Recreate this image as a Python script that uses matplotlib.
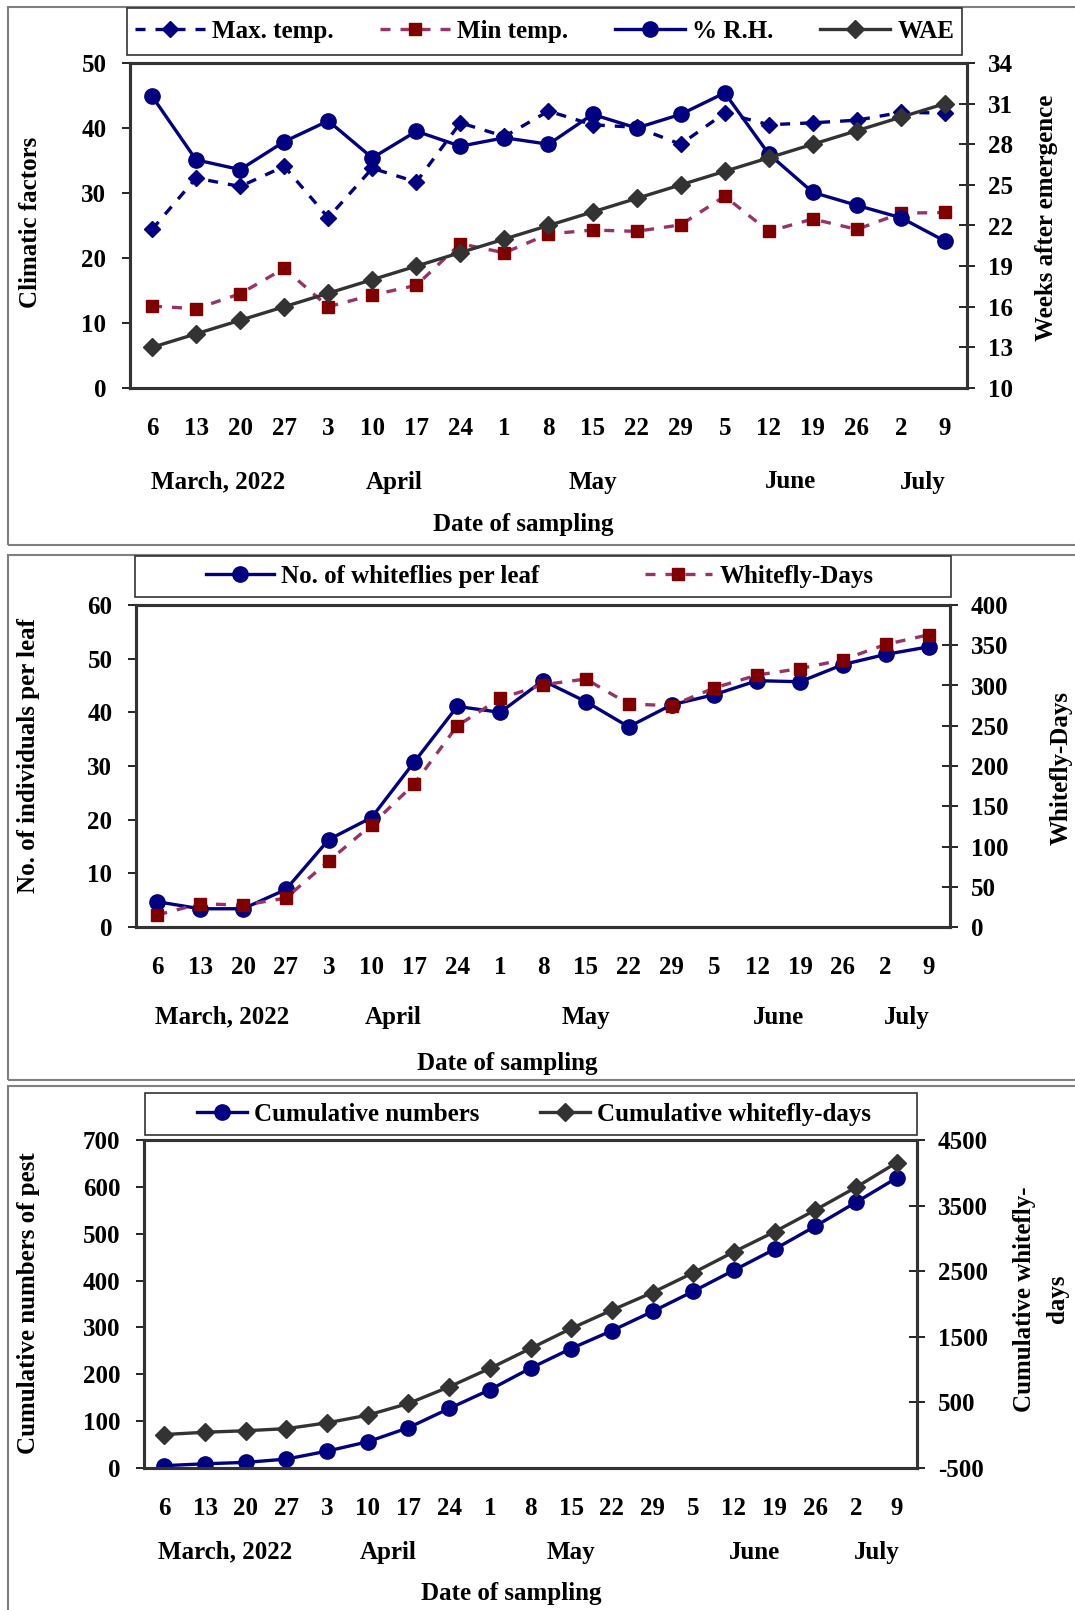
import numpy as np
import matplotlib.pyplot as plt
from matplotlib.patches import Rectangle

plt.rcParams['font.family'] = ['Liberation Serif', 'DejaVu Serif']
plt.rcParams['font.weight'] = 'bold'
plt.rcParams['font.size'] = 18
plt.rcParams['axes.unicode_minus'] = False

# Datas de amostragem (eixo x) e meses
datas = ['6', '13', '20', '27', '3', '10', '17', '24', '1', '8', '15', '22', '29',
         '5', '12', '19', '26', '2', '9']
meses = ['March, 2022', 'April', 'May', 'June', 'July']
pos_meses = [1.5, 5.5, 10, 14.5, 17.5]

# Painel 1 - fatores climaticos
max_temp = [24.4, 32.3, 31.0, 34.1, 26.2, 33.8, 31.7, 40.8, 38.7, 42.6, 40.5, 40.1,
            37.5, 42.3, 40.5, 40.8, 41.2, 42.4, 42.3]
min_temp = [12.6, 12.2, 14.5, 18.4, 12.5, 14.3, 15.8, 22.2, 20.8, 23.7, 24.3, 24.1,
            25.1, 29.5, 24.1, 26.0, 24.4, 26.9, 27.0]
umidade = [44.9, 35.1, 33.6, 37.9, 41.1, 35.4, 39.5, 37.2, 38.5, 37.5, 42.1, 40.0,
           42.1, 45.4, 36.0, 30.1, 28.1, 26.2, 22.6]
semanas_ae = [13, 14, 15, 16, 17, 18, 19, 20, 21, 22, 23, 24, 25, 26, 27, 28, 29, 30, 31]

# Painel 2 - mosca-branca
moscas_folha = [4.7, 3.4, 3.4, 7.0, 16.3, 20.4, 30.8, 41.1, 40.0, 45.9, 42.0, 37.3,
                41.4, 43.3, 45.9, 45.7, 48.9, 50.8, 52.2]
moscas_dias = [15, 29, 27, 36, 82, 127, 178, 250, 284, 301, 308, 277, 275, 297,
               313, 321, 332, 351, 363]

# Painel 3 - acumulados
acum_numeros = [5, 9, 12, 19, 36, 56, 86, 127, 167, 213, 255, 293, 334, 377, 422,
                467, 516, 567, 619]
acum_dias = [10, 45, 68, 100, 188, 306, 484, 737, 1018, 1322, 1627, 1906, 2175,
             2476, 2795, 3101, 3433, 3778, 4155]

AZUL = '#000080'
ROSA = '#993366'
VINHO = '#800000'
CINZA = '#333333'

W, H = 1075, 1610
fig = plt.figure(figsize=(W / 100, H / 100), dpi=100)
x = np.arange(len(datas))


def fx(px):
    return px / W


def fy(py):
    return 1 - py / H


def eixos(esq, dir_, topo, base):
    ax = fig.add_axes([fx(esq), fy(base), fx(dir_ - esq), (base - topo) / H])
    ax2 = ax.twinx()
    ax.set_xlim(-0.5, len(datas) - 0.5)
    ax.set_xticks(x)
    ax.set_xticklabels(datas)
    ax.tick_params(axis='x', length=0, pad=21)
    ax.tick_params(axis='y', direction='out', length=6, width=1.2, pad=11)
    ax2.tick_params(axis='y', direction='inout', length=12, width=1.2, pad=9)
    for a in (ax, ax2):
        for s in a.spines.values():
            s.set_color(CINZA)
            s.set_linewidth(2.2)
    return ax, ax2


def rotulos_x(ax, off_mes, off_tit, x_tit):
    for m, p in zip(meses, pos_meses):
        ax.annotate(m, (p, 0), xycoords=('data', 'axes fraction'),
                    xytext=(0, -off_mes * 0.72), textcoords='offset points',
                    ha='center', va='center')
    ax.annotate('Date of sampling', (x_tit, 0), xycoords='axes fraction',
                xytext=(0, -off_tit * 0.72), textcoords='offset points',
                ha='center', va='center')


def moldura(topo, base):
    fig.add_artist(Rectangle((fx(8), fy(base)), 1.2, (base - topo) / H,
                             transform=fig.transFigure, fill=False,
                             edgecolor='#808080', linewidth=1.5))


def legenda(handles, labels, esq, dir_, topo, base, ncol, expand=True,
            hl=2.8, colsp=2.0, centro=None):
    # caixa da legenda ocupa toda a largura; entradas centradas dentro dela
    fig.add_artist(Rectangle((fx(esq), fy(base)), fx(dir_ - esq), (base - topo) / H,
                             transform=fig.transFigure, fill=True, facecolor='white',
                             edgecolor=CINZA, linewidth=1.2))
    if centro is None:
        bbox = (fx(esq), fy(base), fx(dir_ - esq), (base - topo) / H)
    else:
        bbox = (fx(centro), fy((topo + base) / 2))
    fig.legend(handles, labels, loc='center', ncol=ncol,
               mode='expand' if expand else None,
               bbox_to_anchor=bbox, frameon=False,
               handlelength=hl, handletextpad=0.3, borderaxespad=0,
               borderpad=0.3, columnspacing=colsp, fontsize=18)


lw = 2.4

# ---------------- Painel 1 ----------------
moldura(7, 545)
ax, ax2 = eixos(130, 967, 63, 388)
l1, = ax.plot(x, max_temp, linestyle=(0, (3, 3)), color=AZUL, lw=lw,
              marker='D', markersize=8, markerfacecolor=AZUL, markeredgecolor=AZUL)
l2, = ax.plot(x, min_temp, linestyle=(0, (3, 3)), color=ROSA, lw=lw,
              marker='s', markersize=9, markerfacecolor=VINHO, markeredgecolor=VINHO)
l3, = ax.plot(x, umidade, linestyle='-', color=AZUL, lw=lw,
              marker='o', markersize=11, markerfacecolor=AZUL, markeredgecolor=AZUL)
l4, = ax2.plot(x, semanas_ae, linestyle='-', color=CINZA, lw=lw,
               marker='D', markersize=9, markerfacecolor=CINZA, markeredgecolor=CINZA)
ax.set_ylim(0, 50)
ax.set_yticks(range(0, 51, 10))
ax2.set_ylim(10, 34)
ax2.set_yticks(range(10, 35, 3))
rotulos_x(ax, 94, 137, 0.47)
fig.text(fx(31), fy(222), 'Climatic factors', rotation=90, ha='center', va='center')
fig.text(fx(1047), fy(218), 'Weeks after emergence', rotation=90, ha='center', va='center')
legenda([l1, l2, l3, l4], ['Max. temp.', 'Min temp.', '% R.H.', 'WAE'], 127, 962, 8, 55, 4)

# ---------------- Painel 2 ----------------
moldura(555, 1080)
ax, ax2 = eixos(136, 950, 605, 927)
m1, = ax.plot(x, moscas_folha, linestyle='-', color=AZUL, lw=lw,
              marker='o', markersize=11, markerfacecolor=AZUL, markeredgecolor=AZUL)
m2, = ax2.plot(x, moscas_dias, linestyle=(0, (3, 3)), color=ROSA, lw=lw,
               marker='s', markersize=9, markerfacecolor=VINHO, markeredgecolor=VINHO)
ax.set_ylim(0, 60)
ax.set_yticks(range(0, 61, 10))
ax2.set_ylim(0, 400)
ax2.set_yticks(range(0, 401, 50))
rotulos_x(ax, 90, 136, 0.456)
fig.text(fx(29), fy(756), 'No. of individuals per leaf', rotation=90, ha='center', va='center')
fig.text(fx(1061), fy(768), 'Whitefly-Days', rotation=90, ha='center', va='center')
legenda([m1, m2], ['No. of whiteflies per leaf', 'Whitefly-Days'], 135, 951, 556, 597, 2,
        expand=False, hl=2.7, colsp=4.2, centro=540)

# ---------------- Painel 3 ----------------
moldura(1086, 1640)
ax, ax2 = eixos(144, 917, 1140, 1468)
c1, = ax.plot(x, acum_numeros, linestyle='-', color=AZUL, lw=lw,
              marker='o', markersize=11, markerfacecolor=AZUL, markeredgecolor=AZUL)
c2, = ax2.plot(x, acum_dias, linestyle='-', color=CINZA, lw=lw,
               marker='D', markersize=9, markerfacecolor=CINZA, markeredgecolor=CINZA)
ax.set_ylim(0, 700)
ax.set_yticks(range(0, 701, 100))
ax2.set_ylim(-500, 4500)
ax2.set_yticks(range(-500, 4501, 1000))
rotulos_x(ax, 84, 125, 0.475)
fig.text(fx(29), fy(1303), 'Cumulative numbers of pest', rotation=90, ha='center', va='center')
fig.text(fx(1041), fy(1299), 'Cumulative whitefly-\ndays', rotation=90, ha='center', va='center',
         multialignment='center', linespacing=1.6)
legenda([c1, c2], ['Cumulative numbers', 'Cumulative whitefly-days'], 145, 917, 1093, 1135, 2,
        expand=False, hl=2.0, colsp=2.4, centro=534)

fig.savefig('out.png', dpi=100)
